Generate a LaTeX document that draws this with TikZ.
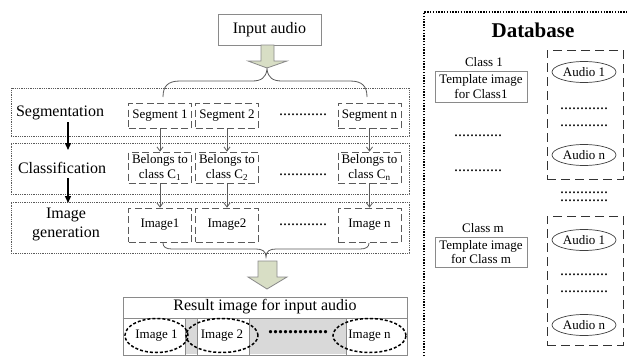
\documentclass[tikz,border=0pt]{standalone}
\usepackage{fontspec}
\setmainfont{Liberation Serif}
\usetikzlibrary{arrows.meta,shapes.geometric}

\definecolor{arrowfill}{HTML}{D8DEC5}
\definecolor{arrowedge}{HTML}{8A8A8A}
\definecolor{boxgray}{HTML}{5A5A5A}
\definecolor{cellgray}{HTML}{D9D9D9}

\tikzset{
  big/.style={font=\fontsize{16}{17}\selectfont},
  small/.style={font=\fontsize{13}{14.5}\selectfont},
  stagebox/.style={draw=boxgray, line width=0.8pt, dash pattern=on 1pt off 0.8pt, inner sep=0pt},
  itembox/.style={draw=boxgray, line width=0.8pt, dash pattern=on 7pt off 3.5pt,
    minimum width=63pt, inner sep=0pt, small, align=center},
  plainbox/.style={draw=arrowedge, line width=0.9pt, inner sep=0pt, align=center},
  stagearrow/.style={line width=1.4pt, -{Triangle[length=7pt,width=6pt]}},
  itemarrow/.style={draw=boxgray, line width=0.8pt, -{Straight Barb[length=4pt,width=6pt]}},
  bracestyle/.style={draw=boxgray, line width=0.8pt},
  blockarrow/.style={draw=arrowedge, fill=arrowfill, line width=0.8pt, line join=miter},
  dotrow/.style={big, inner sep=0pt},
  colbox/.style={draw=black!80, line width=1pt, dash pattern=on 9pt off 5pt,
    minimum width=76pt, minimum height=129pt, inner sep=0pt},
  audioell/.style={ellipse, draw=black!75, line width=0.7pt, minimum width=64pt,
    minimum height=21pt, inner sep=0pt, small},
  imgell/.style={ellipse, draw=black, line width=1.5pt, dash pattern=on 3pt off 2pt,
    inner sep=0pt, small},
  dbborder/.style={draw=black, line width=1.6pt, dash pattern=on 1.4pt off 1.4pt},
}

\begin{document}
\begin{tikzpicture}[x=1pt, y=-1pt]
\useasboundingbox (0,0) rectangle (629,356);

% ---------- input ----------
\node[plainbox, big, minimum width=103pt, minimum height=31pt] (input) at (269.5,29.5) {Input audio};
\draw[blockarrow] (261,45) -- (274,45) -- (274,61) -- (287,61) -- (267,68)
  -- (248,61) -- (261,61) -- cycle;

% ---------- processing stages ----------
\node[stagebox, minimum width=398pt, minimum height=48pt] (segstage) at (210,112) {};
\node[stagebox, minimum width=398pt, minimum height=51pt] (clsstage) at (210,168.5) {};
\node[stagebox, minimum width=398pt, minimum height=51pt] (imgstage) at (210,227.5) {};

\node[big] (seglabel) at (60,113) {Segmentation};
\node[big] (clslabel) at (62,168) {Classification};
\node[big, align=center, font=\fontsize{16}{19}\selectfont] (imglabel) at (66,224) {Image\\generation};

\coordinate (s1a) at (68,122);
\coordinate (s1b) at (68,150);
\coordinate (s2a) at (68,178);
\coordinate (s2b) at (68,203);
\draw[stagearrow] (s1a) -- (s1b);
\draw[stagearrow] (s2a) -- (s2b);

% segments
\node[itembox, minimum height=25pt] (seg1) at (160,115.5) {Segment 1};
\node[itembox, minimum height=25pt] (seg2) at (227,115.5) {Segment 2};
\node[itembox, minimum height=25pt] (segn) at (369.5,115.5) {Segment n};
\node[dotrow] (segdots) at (303,115) {............};

% classes
\node[itembox, minimum height=31pt] (cls1) at (160,167.5) {Belongs to\\class C\textsubscript{1}};
\node[itembox, minimum height=31pt] (cls2) at (227,167.5) {Belongs to\\class C\textsubscript{2}};
\node[itembox, minimum height=31pt] (clsn) at (369.5,167.5) {Belongs to\\class C\textsubscript{n}};
\node[dotrow] (clsdots) at (303,175) {............};

% images
\node[itembox, minimum height=34pt] (img1) at (160,225) {Image1};
\node[itembox, minimum height=34pt] (img2) at (227,225) {Image2};
\node[itembox, minimum height=34pt] (imgn) at (369.5,225) {Image n};
\node[dotrow] (imgdots) at (303,225) {............};

\draw[itemarrow] (seg1) -- (cls1);
\draw[itemarrow] (seg2) -- (cls2);
\draw[itemarrow] (segn) -- (clsn);
\draw[itemarrow] (cls1) -- (img1);
\draw[itemarrow] (cls2) -- (img2);
\draw[itemarrow] (clsn) -- (imgn);

% braces
\coordinate (tbl) at (163,97);
\coordinate (tbr) at (367,97);
\coordinate (tbtip) at (267,69);
\draw[bracestyle] (tbl) .. controls (163,86) and (168,81) .. (180,81) -- (252,81)
  .. controls (261,81) and (266,78) .. (tbtip)
  .. controls (268,78) and (273,81) .. (282,81) -- (350,81)
  .. controls (362,81) and (367,86) .. (tbr);

\coordinate (bbl) at (163,243);
\coordinate (bbr) at (369,243);
\coordinate (bbtip) at (266,257);
\draw[bracestyle] (bbl) .. controls (163,247) and (166,249) .. (172,249) -- (256,249)
  .. controls (262,249) and (266,251) .. (bbtip)
  .. controls (266,251) and (270,249) .. (276,249) -- (360,249)
  .. controls (366,249) and (369,247) .. (bbr);

\draw[blockarrow] (258,261) -- (277,261) -- (277,277) -- (287,277) -- (267,289)
  -- (248,277) -- (258,277) -- cycle;

% ---------- result ----------
\fill[cellgray] (185,318) rectangle (197,354);
\fill[cellgray] (249,318) rectangle (346,354);
\node[plainbox, minimum width=284pt, minimum height=58pt] (result) at (265,326) {};
\node[big] (resulttitle) at (265,307) {Result image for input audio};
\draw[draw=arrowedge, line width=0.8pt] (result.west |- 0,318) -- (result.east |- 0,318);
\draw[draw=arrowedge, line width=0.6pt] (185,318) -- (185,355) (197,318) -- (197,355)
  (249,318) -- (249,355) (346,318) -- (346,355);
\node[imgell, minimum width=63pt, minimum height=34pt] (r1) at (156.5,335.5) {Image 1};
\node[imgell, minimum width=72pt, minimum height=34pt] (r2) at (222,335.5) {Image 2};
\node[imgell, minimum width=73pt, minimum height=34pt] (rn) at (369.5,335.5) {Image n};
\node[inner sep=0pt, font=\fontsize{20}{20}\selectfont\bfseries] (rdots) at (298,332) {............};

% ---------- database ----------
\coordinate (dbl) at (424,356);
\coordinate (dbc) at (424,12);
\coordinate (dbr) at (629,12);
\draw[dbborder] (dbl) -- (dbc) -- (dbr);
\node[font=\fontsize{21}{22}\selectfont\bfseries] (dbtitle) at (533,30) {Database};

\node[small] (c1) at (484,62) {Class 1};
\node[plainbox, small, minimum width=92pt, minimum height=31pt] (t1) at (481,86.5) {Template image\\for Class1};
\node[dotrow] (ld1) at (478,136) {............};
\node[dotrow] (ld2) at (478,171) {............};
\node[small] (cm) at (483,228) {Class m};
\node[plainbox, small, minimum width=92pt, minimum height=30pt] (tm) at (481,252) {Template image\\for Class m};

\node[colbox] (col1) at (585,114.5) {};
\node[audioell] (a11) at (584,72) {Audio 1};
\node[dotrow] (cd1) at (584,109) {............};
\node[dotrow] (cd2) at (584,126) {............};
\node[audioell] (a1n) at (584,155) {Audio n};

% two close rows of dots between the two class columns
\node[inner sep=0pt, align=center, font=\fontsize{16}{8}\selectfont] (mdots) at (584,197) {............\\............};

\node[colbox] (col2) at (585,280.5) {};
\node[audioell] (a21) at (584,240) {Audio 1};
\node[dotrow] (cd3) at (584,275) {............};
\node[dotrow] (cd4) at (584,292) {............};
\node[audioell] (a2n) at (584,325) {Audio n};
\end{tikzpicture}
\end{document}
